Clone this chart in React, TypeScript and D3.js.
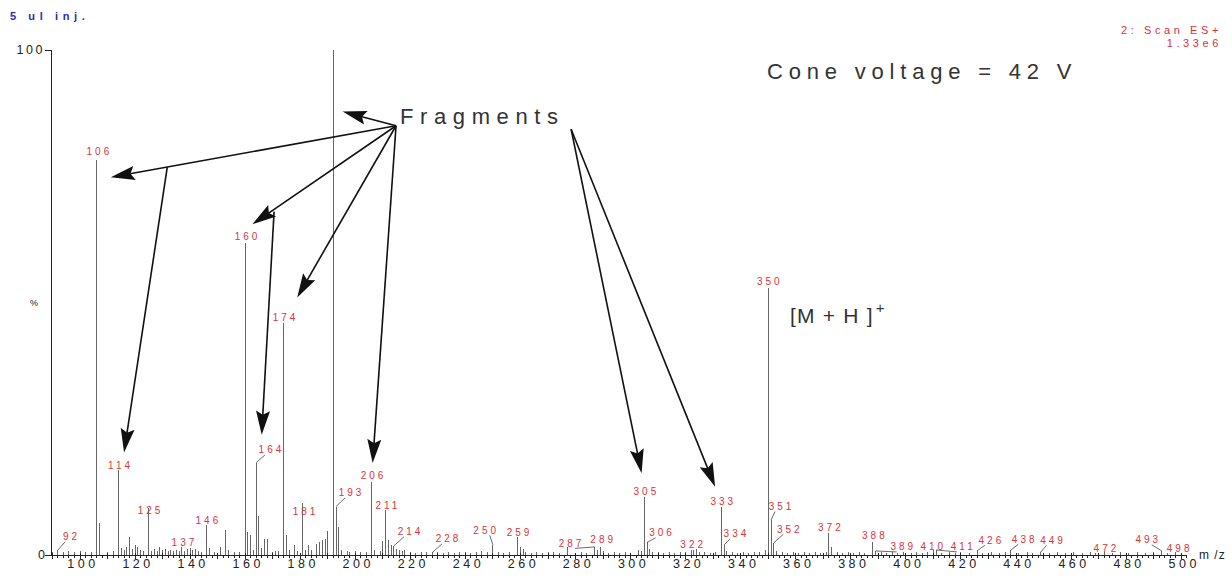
import React from "react";
import * as d3 from "d3";

// ---- data (m/z, relative intensity %) ----
const peaks: [number, number][] = [
  [90, 0.6], [92, 1.0], [94, 0.5], [96, 0.7], [98, 0.5], [100, 0.8], [102, 0.6], [104, 0.6],
  [106, 78.2], [107, 6.3], [110, 0.5], [112, 0.7], [114, 16.8], [115, 1.3], [116, 1.0], [117, 1.5],
  [118, 3.5], [119, 1.2], [120, 2.0], [121, 1.5], [122, 1.0], [123, 0.8], [125, 9.3], [126, 0.8],
  [127, 1.2], [128, 0.8], [129, 1.5], [130, 1.0], [131, 1.2], [132, 0.8], [133, 1.0], [134, 0.7],
  [135, 1.0], [136, 0.8], [137, 1.5], [138, 0.8], [139, 1.2], [140, 1.4], [141, 1.0], [142, 1.2],
  [143, 0.8], [144, 0.6], [146, 6.0], [147, 1.3], [149, 0.6], [151, 1.5], [153, 5.0], [154, 1.0],
  [156, 0.6], [158, 0.5], [160, 61.8], [161, 4.5], [162, 4.0], [163, 1.0], [164, 18.3], [165, 7.7],
  [166, 1.4], [167, 3.2], [168, 3.2], [170, 0.6], [171, 0.8], [172, 0.8], [174, 46.0], [175, 4.0],
  [176, 1.0], [178, 2.0], [179, 0.8], [181, 10.3], [182, 1.0], [183, 2.0], [184, 1.0], [186, 2.2],
  [187, 2.6], [188, 3.0], [189, 3.2], [190, 4.8], [192, 100], [193, 9.6], [194, 5.5], [195, 1.0],
  [197, 0.8], [198, 0.5], [200, 0.7], [202, 0.5], [204, 0.6], [206, 14.5], [207, 1.0], [209, 0.8],
  [210, 2.8], [211, 8.9], [212, 3.0], [213, 2.0], [214, 1.8], [215, 1.2], [216, 0.9], [217, 0.7],
  [218, 0.9], [220, 0.5], [222, 0.4], [224, 0.5], [226, 0.6], [228, 0.5], [230, 0.5], [232, 0.4],
  [234, 0.5], [236, 0.4], [238, 0.6], [240, 0.5], [242, 0.4], [244, 0.6], [246, 0.8], [248, 0.5],
  [250, 2.0], [252, 0.5], [254, 0.4], [256, 0.5], [259, 3.5], [260, 1.5], [261, 1.2], [262, 0.6],
  [264, 0.4], [266, 0.5], [268, 0.4], [270, 0.5], [272, 0.6], [274, 0.4], [277, 1.5], [280, 0.4],
  [282, 0.5], [284, 0.4], [287, 1.6], [288, 1.0], [289, 1.5], [290, 0.8], [292, 0.4], [294, 0.5],
  [296, 0.4], [298, 0.5], [300, 0.4], [303, 1.0], [304, 0.8], [305, 11.5], [306, 2.5], [307, 1.2],
  [308, 0.6], [310, 0.5], [312, 0.4], [314, 0.5], [316, 0.4], [318, 0.6], [320, 0.6], [322, 0.9],
  [323, 1.0], [324, 1.2], [325, 0.6], [327, 0.5], [329, 0.4], [331, 0.5], [333, 9.6], [334, 2.0],
  [335, 0.7], [337, 0.5], [339, 0.4], [341, 0.5], [343, 0.4], [345, 0.5], [347, 0.6], [349, 1.0],
  [350, 52.9], [351, 6.9], [352, 2.4], [353, 0.8], [355, 0.5], [357, 0.4], [359, 0.5], [361, 0.4],
  [363, 0.5], [365, 0.4], [367, 0.5], [369, 0.4], [371, 0.6], [372, 4.4], [373, 1.5], [375, 0.5],
  [377, 0.4], [379, 0.5], [381, 0.4], [383, 0.5], [385, 0.4], [388, 2.6], [389, 0.8], [391, 0.5],
  [393, 0.4], [395, 0.5], [397, 0.4], [399, 0.5], [402, 0.4], [404, 0.5], [406, 0.4], [408, 0.5],
  [410, 1.0], [411, 1.0], [413, 0.4], [416, 0.5], [418, 0.4], [420, 0.5], [423, 0.4], [426, 0.9],
  [428, 0.4], [431, 0.5], [434, 0.4], [436, 0.5], [438, 0.9], [441, 0.4], [444, 0.5], [446, 0.4],
  [449, 0.6], [452, 0.4], [455, 0.5], [458, 0.4], [461, 0.5], [464, 0.4], [467, 0.5], [469, 0.4],
  [472, 0.6], [475, 0.4], [478, 0.5], [481, 0.4], [484, 0.5], [487, 0.4], [490, 0.5], [493, 0.8],
  [495, 0.4], [498, 0.6], [500, 0.4],
];

// peak labels: [text / peak m/z, label m/z, label %, has leader line]
const peakLabels: [number, number, number, boolean][] = [
  [92, 96.4, 3.6, true], [106, 106.5, 80.0, false], [114, 114.2, 17.8, false],
  [125, 125.1, 8.9, false], [137, 137.4, 2.4, false], [146, 146.1, 6.9, false],
  [160, 160.3, 63.0, false], [164, 169.0, 20.8, true], [174, 174.1, 47.1, false],
  [181, 181.4, 8.7, false], [193, 198.1, 12.3, true], [206, 206.1, 15.8, false],
  [211, 211.3, 9.9, false], [214, 219.5, 4.6, true], [228, 233.3, 3.2, true],
  [250, 247.0, 4.9, true], [259, 259.1, 4.4, false], [287, 278.0, 2.3, true],
  [289, 289.5, 3.1, false], [305, 305.2, 12.5, false], [306, 310.9, 4.4, true],
  [322, 322.2, 2.0, false], [333, 333.1, 10.5, false], [334, 337.9, 4.2, true],
  [350, 350.0, 54.1, false], [351, 354.3, 9.6, true], [352, 357.3, 5.1, true],
  [372, 372.2, 5.5, false], [388, 388.2, 3.9, false], [389, 398.5, 1.6, true],
  [410, 409.4, 1.6, false], [411, 420.3, 1.6, true], [426, 430.5, 2.9, true],
  [438, 442.6, 3.1, true], [449, 452.9, 2.9, true], [472, 472.3, 1.3, false],
  [493, 487.5, 3.0, true], [498, 498.9, 1.3, false],
];

// annotation arrows in data coordinates: [from m/z, from %, to m/z, to %]
const arrowsFragments: [number, number, number, number][] = [
  [214.8, 85.0, 195.4, 87.8],
  [214.8, 85.0, 111.2, 74.8],
  [131.7, 76.8, 116.0, 20.3],
  [214.8, 85.0, 162.6, 65.5],
  [170.5, 68.0, 166.0, 23.8],
  [214.8, 85.0, 178.9, 51.0],
  [214.8, 85.0, 206.3, 18.2],
  [278.4, 84.3, 304.0, 16.2],
  [278.4, 84.3, 330.7, 13.5],
];

const xTickLabels = [100, 120, 140, 160, 180, 200, 220, 240, 260, 280, 300, 320, 340, 360, 380, 400, 420, 440, 460, 480, 500];
const yTickLabels: [number, string][] = [[100, "100"], [50, "%"], [0, "0"]];
const mzDomain: [number, number] = [89.8, 502];

const FONT = "'Liberation Sans', Arial, Helvetica, sans-serif";
const RED = "#d8343a";

export default function App() {
  const W = 1232, H = 579;
  const x = d3.scaleLinear().domain([100, 500]).range([80, 1181.2]);
  const y = d3.scaleLinear().domain([0, 100]).range([555, 50]);
  const x0 = x(mzDomain[0]);
  const x1 = x(mzDomain[1]);

  const minor = d3.range(90, 503, 2);
  const mid = d3.range(90, 503, 10);

  const arrowHead = (fx: number, fy: number, tx: number, ty: number) => {
    const dx = tx - fx, dy = ty - fy;
    const len = Math.hypot(dx, dy);
    const ux = dx / len, uy = dy / len;
    const L = 24, hw = 7;
    const bx = tx - ux * L, by = ty - uy * L;
    const pts = [
      [tx, ty],
      [bx - uy * hw, by + ux * hw],
      [bx + ux * 4, by + uy * 4],
      [bx + uy * hw, by - ux * hw],
    ];
    return pts.map((p) => p.join(",")).join(" ");
  };

  const byMz = new Map(peaks.map((p) => [p[0], p[1]]));

  return (
    <div style={{ position: "fixed", left: 0, top: 0, width: W, height: H, background: "#fff" }}>
      <svg width={W} height={H} style={{ display: "block" }}>
        <rect width={W} height={H} fill="#fff" />
        {/* header texts */}
        <text x={10} y={20} fontFamily={FONT} fontSize={11} fontWeight="bold" fill="#2b2bb0" letterSpacing={4.6}>
          5 ul inj.
        </text>
        <text x={1222} y={34} fontFamily={FONT} fontSize={11} fill={RED} textAnchor="end" letterSpacing={3.6}>
          2: Scan ES+
        </text>
        <text x={1222} y={47} fontFamily={FONT} fontSize={11} fill={RED} textAnchor="end" letterSpacing={3.6}>
          1.33e6
        </text>

        {/* peaks */}
        <g shapeRendering="crispEdges">
          {peaks.map(([mz, v]) => (
            <line key={mz} x1={x(mz)} x2={x(mz)} y1={y(0)} y2={y(v)} stroke="#666" strokeWidth={1} />
          ))}
        </g>

        {/* axes */}
        <g shapeRendering="crispEdges" stroke="#222" strokeWidth={1}>
          <line x1={x0} x2={x0} y1={y(100)} y2={y(0)} />
          <line x1={x0} x2={x1} y1={y(0)} y2={y(0)} />
          {yTickLabels.filter((t) => t[1] !== "%").map(([v]) => (
            <line key={v} x1={x0 - 7} x2={x0} y1={y(v)} y2={y(v)} />
          ))}
          {minor.map((m) => (
            <line key={"m" + m} x1={x(m)} x2={x(m)} y1={y(0)} y2={y(0) + 3} />
          ))}
          {mid.map((m) => (
            <line key={"d" + m} x1={x(m)} x2={x(m)} y1={y(0) - 2} y2={y(0) + 4} />
          ))}
        </g>
        {yTickLabels.map(([v, t]) => (
          <text key={t} x={t === "%" ? 38 : x0 - 7} y={y(v)} dy="0.35em" textAnchor="end" fontFamily={FONT}
            fontSize={t === "%" ? 9 : 12.5} letterSpacing={t === "100" ? 2.5 : 0} fill="#222">
            {t}
          </text>
        ))}
        {xTickLabels.map((v) => (
          <text key={v} x={x(v) + 3} y={568} textAnchor="middle" fontFamily={FONT} fontSize={12.5}
            letterSpacing={3.5} fill="#222">
            {v}
          </text>
        ))}
        <text x={1199} y={559} fontFamily={FONT} fontSize={12} letterSpacing={1} fill="#222">
          m /z
        </text>

        {/* peak labels */}
        {peakLabels.map(([mz, lmz, lp, lead]) => {
          const lx = x(lmz), ly = y(lp);
          const px = x(mz), py = y(byMz.get(mz) ?? 0);
          const side = px < lx ? -1 : 1;
          return (
            <g key={"l" + mz}>
              {lead && (
                <line x1={px} y1={py} x2={lx + side * 5} y2={ly + 5} stroke="#444" strokeWidth={0.8} />
              )}
              <text x={lx + 1.5} y={ly} dy="0.35em" textAnchor="middle" fontFamily={FONT} fontSize={10}
                letterSpacing={3} fill={RED}>
                {mz}
              </text>
            </g>
          );
        })}

        {/* annotations */}
        <text x={400} y={124} fontFamily={FONT} fontSize={22} letterSpacing={6.6} fill="#333">
          Fragments
        </text>
        <text x={767} y={79} fontFamily={FONT} fontSize={22} letterSpacing={5.8} fill="#333">
          Cone voltage = 42 V
        </text>
        <text x={790} y={323} fontFamily={FONT} fontSize={21} letterSpacing={1.2} fill="#333">
          [M + H ]
          <tspan dx={2} dy={-10} fontSize={15}>+</tspan>
        </text>

        {arrowsFragments.map(([fm, fp, tm, tp], i) => {
          const fx = x(fm), fy = y(fp), tx = x(tm), ty = y(tp);
          const dx = tx - fx, dy = ty - fy, len = Math.hypot(dx, dy);
          const ex = tx - (dx / len) * 18, ey = ty - (dy / len) * 18;
          return (
            <g key={"a" + i}>
              <line x1={fx} y1={fy} x2={ex} y2={ey} stroke="#111" strokeWidth={1.6} />
              <polygon points={arrowHead(fx, fy, tx, ty)} fill="#111" />
            </g>
          );
        })}
      </svg>
    </div>
  );
}
